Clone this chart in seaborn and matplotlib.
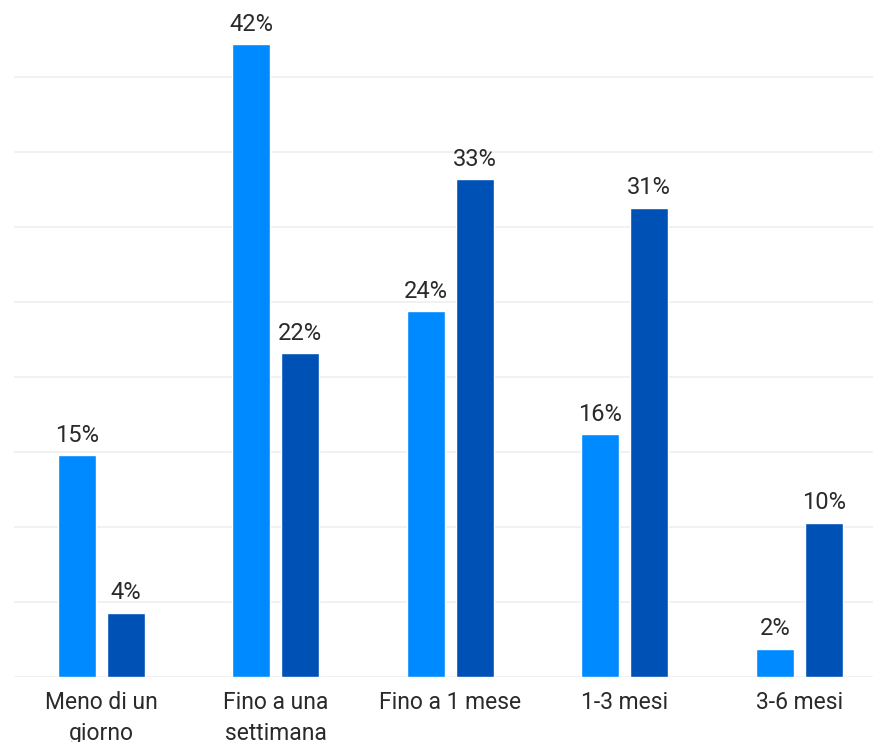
import matplotlib
matplotlib.use("Agg")
import matplotlib.pyplot as plt
import seaborn as sns
import pandas as pd

categories = ["Meno di un\ngiorno", "Fino a una\nsettimana", "Fino a 1 mese", "1-3 mesi", "3-6 mesi"]
series_names = ["Serie A", "Serie B"]
values_a = [14.8, 42.2, 24.4, 16.2, 1.9]
values_b = [4.3, 21.6, 33.2, 31.3, 10.3]
labels_a = ["15%", "42%", "24%", "16%", "2%"]
labels_b = ["4%", "22%", "33%", "31%", "10%"]

df = pd.DataFrame({
    "cat": categories * 2,
    "serie": [series_names[0]] * 5 + [series_names[1]] * 5,
    "val": values_a + values_b,
})

sns.set_theme(style="white")
plt.rcParams["font.family"] = ["Roboto", "DejaVu Sans"]

W, H = 873, 742
fig = plt.figure(figsize=(W / 100, H / 100), dpi=100)
left, right, bottom, top = 14, 873, H - 677, H
ax = fig.add_axes([left / W, bottom / H, (right - left) / W, (top - bottom) / H])

sns.barplot(data=df, x="cat", y="val", hue="serie", order=categories,
            palette=["#008AFF", "#0051B6"], width=0.56, gap=0.22,
            legend=False, ax=ax, saturation=1)

ax.set_xlim(-0.5, (right - left) / 174.5 - 0.5)
ax.set_ylim(0, 677 / 15.0)
ax.set_yticks([0, 5, 10, 15, 20, 25, 30, 35, 40])
ax.set_yticklabels([])
ax.yaxis.grid(True, color="#EFEFEF", linewidth=1.2)
ax.set_axisbelow(True)
for s in ax.spines.values():
    s.set_visible(False)
ax.tick_params(axis="y", length=0)
ax.tick_params(axis="x", length=0, pad=10, labelsize=16.5, labelcolor="#2a2a2a")
ax.set_xlabel("")
ax.set_ylabel("")
for lbl in ax.get_xticklabels():
    lbl.set_linespacing(1.45)

for cont, labs in zip(ax.containers, [labels_a, labels_b]):
    ax.bar_label(cont, labels=labs, padding=6, fontsize=17, color="#2a2a2a")

fig.savefig("out.png", dpi=100)
